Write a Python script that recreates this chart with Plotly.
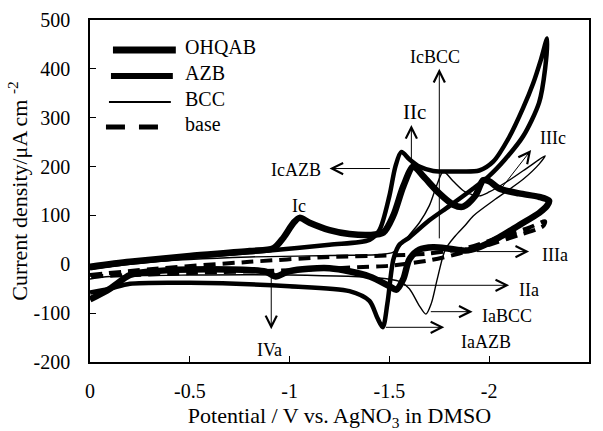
import plotly.graph_objects as go

# ---- data (potential V vs. AgNO3, current density uA cm-2) ----
ohqab_v = [0, -0.2, -0.5, -0.8, -0.92, -0.97, -1.02, -1.05, -1.1, -1.2, -1.3, -1.4, -1.47,
           -1.52, -1.57, -1.62, -1.67, -1.75, -1.82, -1.87, -1.93, -1.97, -2.0, -2.05, -2.15,
           -2.25, -2.3,
           -2.29, -2.25, -2.15, -2.05, -1.95, -1.88, -1.8, -1.72, -1.65, -1.6, -1.57, -1.535,
           -1.5, -1.4, -1.2, -1.0, -0.93, -0.88, -0.6, -0.3, -0.2, -0.1, 0]
ohqab_i = [-5, 5, 17, 27, 33, 55, 85, 95, 85, 70, 62, 60, 65,
           100, 160, 200, 180, 145, 122, 118, 140, 172, 170, 155, 145,
           138, 130,
           120, 105, 80, 55, 35, 28, 32, 35, 30, 10, -30, -52,
           -45, -25, -8, -14, -25, -15, -10, -15, -22, -50, -72]

azb_v = [0, -0.2, -0.5, -0.9, -1.2, -1.4, -1.45, -1.5, -1.53, -1.56, -1.6, -1.65, -1.72,
         -1.85, -1.95, -2.02, -2.1, -2.17, -2.22, -2.26, -2.29,
         -2.28, -2.25, -2.17, -2.08, -2.0, -1.92, -1.8, -1.7, -1.6, -1.55, -1.52, -1.49,
         -1.467, -1.44, -1.4, -1.3, -1.0, -0.5, -0.2, -0.1, 0]
azb_i = [-8, 3, 15, 28, 40, 50, 70, 140, 200, 230, 215, 200, 191,
         190, 192, 210, 260, 320, 370, 420, 462,
         400, 331, 262, 215, 181, 155, 119, 90, 55, 40, 10, -80,
         -129, -110, -75, -55, -45, -38, -40, -50, -58]

bcc_v = [0, -0.3, -0.8, -1.2, -1.45, -1.52, -1.57, -1.6, -1.65, -1.7, -1.74, -1.77, -1.82,
         -1.88, -1.95, -2.0, -2.1, -2.2, -2.28,
         -2.25, -2.17, -2.03, -1.92, -1.88, -1.83, -1.78, -1.74, -1.71, -1.683, -1.65, -1.6,
         -1.55, -1.45, -1.0, -0.5, -0.1, 0]
bcc_i = [-10, 5, 15, 18, 20, 25, 45, 60, 85, 120, 165, 190, 170,
         148, 140, 148, 172, 200, 222,
         205, 174, 133, 99, 80, 58, 30, -30, -80, -102, -85, -50,
         -35, -28, -22, -22, -25, -30]

base_v = [0, -0.3, -0.8, -1.2, -1.5, -1.7, -1.9, -2.05, -2.2, -2.28,
          -2.27, -2.15, -2.0, -1.85, -1.7, -1.5, -1.4, -1.0, -0.5, 0]
base_i = [-22, -10, 5, 15, 18, 22, 35, 55, 75, 88,
          78, 60, 40, 22, 8, -3, -5, -12, -18, -25]

x_ticks = [0, -0.5, -1, -1.5, -2, -2.5]
x_tick_text = ["0", "-0.5", "-1", "-1.5", "-2", "-2.5"]
y_ticks = [-200, -100, 0, 100, 200, 300, 400, 500]
y_tick_text = ["-200", "-100", "0", "100", "200", "300", "400", "500"]

series_names = ["OHQAB", "AZB", "BCC", "base"]

# peak labels: (text, x, y, font size)
labels = [
    ("IcBCC", -1.73, 425, 18), ("IIc", -1.625, 312, 21), ("IcAZB", -1.03, 194, 18),
    ("Ic", -1.045, 119, 18), ("IIIc", -2.32, 259, 18), ("IIIa", -2.33, 20, 18),
    ("IIa", -2.2, -52, 18), ("IaBCC", -2.09, -106, 18), ("IaAZB", -1.985, -160, 18),
    ("IVa", -0.9, -176, 18),
]
# arrows: (head x, head y, tail x, tail y)
arrows = [
    (-1.75, 400, -1.75, 50), (-1.61, 285, -1.61, 190), (-1.2, 196, -1.51, 196),
    (-2.21, 234, -2.05, 150), (-2.2, 26, -1.93, 26), (-2.1, -43, -1.565, -43),
    (-1.917, -97, -1.70, -97), (-1.775, -129, -1.475, -129), (-0.908, -133, -0.908, -24),
]

FONT = "Liberation Serif"
styles = [
    dict(color="black", width=6.5),
    dict(color="black", width=4.5),
    dict(color="black", width=1.4),
    dict(color="black", width=4, dash="12px,7px"),
]
legend_styles = [
    dict(color="black", width=7),
    dict(color="black", width=6),
    dict(color="black", width=2),
    dict(color="black", width=5, dash="19px,14px"),
]

fig = go.Figure()
for name, vx, iy, st in zip(series_names, [ohqab_v, azb_v, bcc_v, base_v],
                            [ohqab_i, azb_i, bcc_i, base_i], styles):
    fig.add_trace(go.Scatter(x=vx, y=iy, name=name, mode="lines", showlegend=False,
                             line=dict(shape="spline", smoothing=0.8, **st)))

# legend drawn in the reference's style: long line samples, text to the right
leg_x0 = [0.046, 0.042, 0.038, 0.032]
leg_x1 = [0.172, 0.166, 0.162, 0.138]
leg_y = [0.912, 0.836, 0.760, 0.687]
for name, x0, x1, y, st in zip(series_names, leg_x0, leg_x1, leg_y, legend_styles):
    fig.add_shape(type="line", xref="paper", yref="paper", x0=x0, x1=x1, y0=y, y1=y,
                  line=st)
    fig.add_annotation(xref="paper", yref="paper", x=0.186, y=y + 0.008, text=name,
                       showarrow=False, xanchor="left", yanchor="middle",
                       font=dict(family=FONT, size=20, color="black"))

for t, x, y, s in labels:
    fig.add_annotation(x=x, y=y, text=t, showarrow=False, xref="x", yref="y",
                       font=dict(family=FONT, size=s, color="black"))
for hx, hy, tx, ty in arrows:
    fig.add_annotation(x=hx, y=hy, ax=tx, ay=ty, xref="x", yref="y", axref="x", ayref="y",
                       text="", showarrow=True, arrowhead=5, arrowsize=2.2, arrowwidth=1,
                       arrowcolor="black", standoff=0, startstandoff=0,
                       font=dict(size=1))

fig.update_layout(
    width=603, height=431,
    margin=dict(l=90, r=14, t=20, b=69),
    paper_bgcolor="white", plot_bgcolor="white",
    font=dict(family=FONT, size=20, color="black"),
    showlegend=False,
)
fig.update_xaxes(range=[0, -2.5], tickvals=x_ticks, ticktext=x_tick_text,
                 ticks="inside", ticklen=6, tickwidth=1.2, tickcolor="black",
                 showline=True, linecolor="black", linewidth=1.6, mirror=True,
                 showgrid=False, zeroline=False, ticklabelstandoff=10, automargin=False,
                 tickfont=dict(family=FONT, size=20),
                 title=dict(text="Potential / V vs. AgNO<sub>3</sub> in DMSO",
                            font=dict(family=FONT, size=22), standoff=11))
fig.update_yaxes(range=[-200, 500], tickvals=y_ticks, ticktext=y_tick_text,
                 ticks="inside", ticklen=6, tickwidth=1.2, tickcolor="black",
                 showline=True, linecolor="black", linewidth=1.6, mirror=True,
                 showgrid=False, zeroline=False, ticklabelstandoff=14, automargin=False,
                 tickfont=dict(family=FONT, size=20),
                 title=dict(text="Current density/μA cm <sup>-2</sup>",
                            font=dict(family=FONT, size=22), standoff=0))

fig.write_html("out.html")
